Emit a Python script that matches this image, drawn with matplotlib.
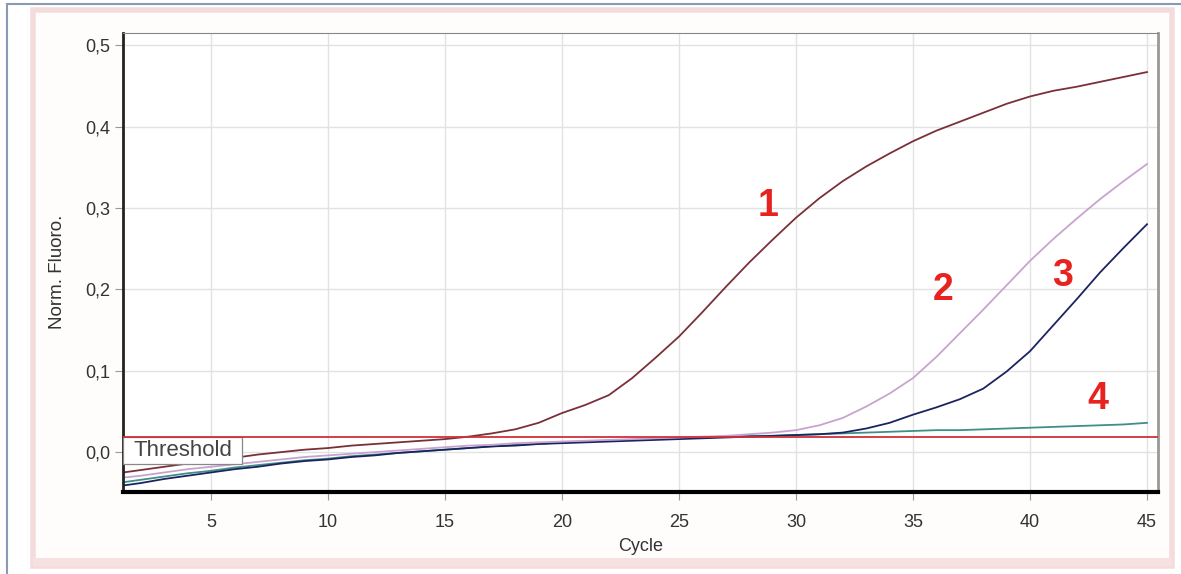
import matplotlib.pyplot as plt
from matplotlib.patches import Rectangle
from matplotlib.ticker import FuncFormatter

plt.rcParams['font.family'] = ['Liberation Sans', 'DejaVu Sans']

# данные
cycles = list(range(1, 46))

curve_1 = [-0.026, -0.022, -0.018, -0.014, -0.011, -0.007, -0.003, 0.000, 0.003, 0.005,
           0.008, 0.010, 0.012, 0.014, 0.016, 0.019, 0.023, 0.028, 0.036, 0.048,
           0.058, 0.070, 0.091, 0.116, 0.142, 0.172, 0.203, 0.233, 0.261, 0.288,
           0.312, 0.333, 0.351, 0.367, 0.382, 0.395, 0.406, 0.417, 0.428, 0.437,
           0.444, 0.449, 0.455, 0.461, 0.467]

curve_2 = [-0.032, -0.029, -0.025, -0.021, -0.018, -0.015, -0.012, -0.009, -0.006, -0.004,
           -0.002, 0.000, 0.002, 0.004, 0.006, 0.008, 0.009, 0.011, 0.012, 0.013,
           0.014, 0.015, 0.016, 0.017, 0.018, 0.019, 0.020, 0.022, 0.024, 0.027,
           0.033, 0.042, 0.056, 0.072, 0.091, 0.117, 0.146, 0.175, 0.205, 0.235,
           0.262, 0.287, 0.311, 0.333, 0.354]

curve_3 = [-0.042, -0.038, -0.033, -0.029, -0.025, -0.021, -0.018, -0.014, -0.011, -0.009,
           -0.006, -0.004, -0.001, 0.001, 0.003, 0.005, 0.007, 0.008, 0.010, 0.011,
           0.012, 0.013, 0.014, 0.015, 0.016, 0.017, 0.018, 0.019, 0.020, 0.021,
           0.022, 0.024, 0.029, 0.036, 0.046, 0.055, 0.065, 0.078, 0.099, 0.124,
           0.156, 0.188, 0.221, 0.251, 0.280]

curve_4 = [-0.038, -0.034, -0.030, -0.026, -0.023, -0.019, -0.016, -0.013, -0.010, -0.008,
           -0.005, -0.003, -0.001, 0.001, 0.003, 0.005, 0.007, 0.009, 0.010, 0.012,
           0.013, 0.014, 0.015, 0.016, 0.017, 0.018, 0.019, 0.020, 0.020, 0.021,
           0.022, 0.023, 0.024, 0.025, 0.026, 0.027, 0.027, 0.028, 0.029, 0.030,
           0.031, 0.032, 0.033, 0.034, 0.036]

threshold = 0.018

curve_labels = ['1', '2', '3', '4']
label_x = [28.8, 36.3, 41.4, 42.9]
label_y = [0.302, 0.199, 0.216, 0.065]

x_ticks = [5, 10, 15, 20, 25, 30, 35, 40, 45]
y_ticks = [0.0, 0.1, 0.2, 0.3, 0.4, 0.5]

x_lim = (1.24, 45.47)
y_lim = (-0.049, 0.515)

fig = plt.figure(figsize=(11.81, 5.74), dpi=100)

# рамка окна и розовая панель (позади осей)
fig.patches.append(Rectangle((7 / 1181, -0.01), 1.0, 1.0 - 4 / 574 + 0.01,
                             transform=fig.transFigure, facecolor='white',
                             edgecolor='#8a9ab5', linewidth=1.5, zorder=-10))
fig.patches.append(Rectangle((33 / 1181, 8 / 574), 1139 / 1181, 556 / 574,
                             transform=fig.transFigure, facecolor='#fffcfc',
                             edgecolor='#f4dcdc', linewidth=4, zorder=-9))
fig.patches.append(Rectangle((33 / 1181, 8 / 574), 1139 / 1181, 8 / 574,
                             transform=fig.transFigure, facecolor='#f6e0e0',
                             edgecolor='none', zorder=-8))

ax = fig.add_axes([123 / 1181, 1 - 492 / 574, 1035 / 1181, 459 / 574])
ax.set_facecolor('white')

ax.plot(cycles, curve_4, color='#3f8f86', lw=1.3)
ax.plot(cycles, curve_3, color='#1c2460', lw=1.3)
ax.plot(cycles, curve_2, color='#c9a3cf', lw=1.3)
ax.plot(cycles, curve_1, color='#7a3038', lw=1.3)
ax.axhline(threshold, color='#d0303a', lw=1.3, zorder=4)

for lab, lx, ly in zip(curve_labels, label_x, label_y):
    ax.text(lx, ly, lab, color='#e8231f', fontsize=27, fontweight='bold',
            ha='center', va='center')

# подпись порога в рамке под линией
box_w, box_h = 5.1, 0.033
ax.add_patch(Rectangle((x_lim[0], threshold - box_h), box_w, box_h,
                       facecolor='white', edgecolor='#888888', lw=0.9, zorder=3))
ax.text(x_lim[0] + box_w / 2, threshold - box_h / 2, 'Threshold', fontsize=16,
        color='#444444', ha='center', va='center', zorder=5)

ax.set_xlim(*x_lim)
ax.set_ylim(*y_lim)
ax.set_xticks(x_ticks)
ax.set_yticks(y_ticks)
ax.yaxis.set_major_formatter(FuncFormatter(lambda v, p: f'{v:.1f}'.replace('.', ',')))
ax.grid(True, color='#e2e2e2', lw=1)
ax.tick_params(labelsize=13, labelcolor='#333333', color='#999999', length=6)
ax.tick_params(axis='x', pad=10)
ax.tick_params(axis='y', pad=3)

ax.spines['bottom'].set_linewidth(3)
ax.spines['bottom'].set_color('black')
ax.spines['left'].set_linewidth(2)
ax.spines['left'].set_color('#222222')
ax.spines['top'].set_color('#888888')
ax.spines['right'].set_color('#999999')
ax.spines['right'].set_linewidth(2)

ax.set_xlabel('Cycle', fontsize=13, color='#333333', labelpad=5)
ax.set_ylabel('Norm. Fluoro.', fontsize=13.5, color='#333333')
ax.yaxis.set_label_coords(-0.055, 0.48)

fig.savefig('out.png', dpi=100)
